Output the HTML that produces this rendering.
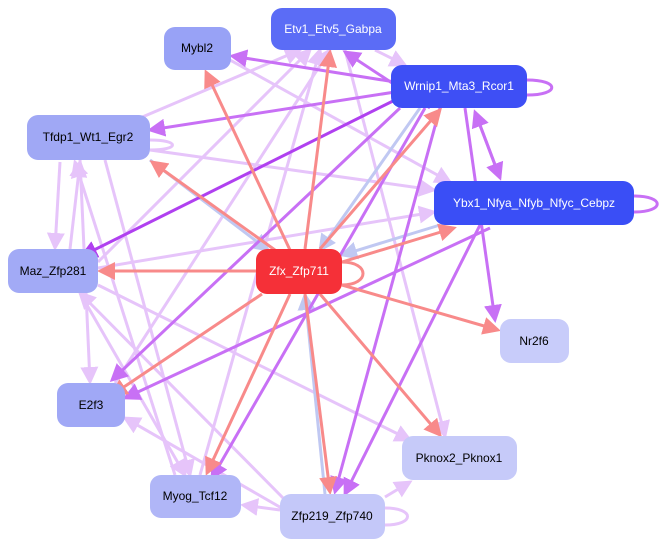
<!DOCTYPE html>
<html><head><meta charset="utf-8"><style>
html,body{margin:0;padding:0;background:#fff;}
svg{display:block;font-family:"Liberation Sans",sans-serif;}
</style></head><body>
<svg width="666" height="546" viewBox="0 0 666 546" xmlns="http://www.w3.org/2000/svg">
<defs>
<marker id="mr" markerWidth="6" markerHeight="6" refX="5" refY="3" orient="auto" markerUnits="strokeWidth"><path d="M0,0 L6,3 L0,6 z" fill="#f88a8a"/></marker>
<marker id="mp" markerWidth="6" markerHeight="6" refX="5" refY="3" orient="auto" markerUnits="strokeWidth"><path d="M0,0 L6,3 L0,6 z" fill="#c870f5"/></marker>
<marker id="md" markerWidth="6" markerHeight="6" refX="5" refY="3" orient="auto" markerUnits="strokeWidth"><path d="M0,0 L6,3 L0,6 z" fill="#b040f0"/></marker>
<marker id="ml" markerWidth="6" markerHeight="6" refX="5" refY="3" orient="auto" markerUnits="strokeWidth"><path d="M0,0 L6,3 L0,6 z" fill="#e6c4fa"/></marker>
<marker id="mb" markerWidth="6" markerHeight="6" refX="5" refY="3" orient="auto" markerUnits="strokeWidth"><path d="M0,0 L6,3 L0,6 z" fill="#c0c8f2"/></marker>
</defs>
<g fill="none" stroke-width="3">
<g stroke="#e6c4fa" marker-end="url(#ml)">
<line x1="140" y1="118" x2="300" y2="50"/>
<line x1="150" y1="150" x2="434" y2="190"/>
<line x1="98" y1="262" x2="310" y2="50"/>
<line x1="98" y1="268" x2="434" y2="212"/>
<line x1="70" y1="249" x2="80" y2="162"/>
<line x1="60" y1="162" x2="55" y2="248"/>
<line x1="98" y1="285" x2="410" y2="440"/>
<line x1="80" y1="293" x2="185" y2="475"/>
<line x1="105" y1="160" x2="190" y2="475"/>
<line x1="80" y1="160" x2="90" y2="382"/>
<line x1="200" y1="475" x2="320" y2="50"/>
<line x1="175" y1="475" x2="75" y2="162"/>
<line x1="230" y1="60" x2="450" y2="182"/>
<line x1="375" y1="50" x2="405" y2="65"/>
<line x1="115" y1="383" x2="330" y2="50"/>
<line x1="290" y1="505" x2="80" y2="293"/>
<line x1="285" y1="510" x2="125" y2="418"/>
<line x1="280" y1="510" x2="243" y2="505"/>
<line x1="385" y1="497" x2="410" y2="482"/>
<line x1="345" y1="50" x2="445" y2="436"/>
</g>
<path d="M150,140 C180,140 180,150 150,150" stroke="#e6c4fa"/>
<path d="M385,508 C415,508 415,525 385,525" stroke="#e6c4fa"/>
<g stroke="#c0c8f2" marker-end="url(#mb)">
<line x1="150" y1="160" x2="268" y2="250"/>
<line x1="420" y1="108" x2="320" y2="250"/>
<line x1="440" y1="225" x2="342" y2="255"/>
<line x1="325" y1="494" x2="305" y2="295"/>
</g>
<g stroke="#c870f5" marker-end="url(#mp)">
<line x1="395" y1="92" x2="150" y2="130"/>
<line x1="395" y1="82" x2="232" y2="56"/>
<line x1="430" y1="108" x2="345" y2="52"/>
<line x1="465" y1="108" x2="495" y2="320"/>
<line x1="440" y1="108" x2="335" y2="492"/>
<line x1="425" y1="108" x2="212" y2="478"/>
<line x1="400" y1="108" x2="112" y2="380"/>
<line x1="490" y1="228" x2="125" y2="398"/>
<line x1="480" y1="225" x2="345" y2="494"/>
<line x1="475" y1="112" x2="500" y2="178"/>
<line x1="500" y1="178" x2="475" y2="112"/>
</g>
<line x1="395" y1="100" x2="82" y2="256" stroke="#b040f0" marker-end="url(#md)"/>
<path d="M527,80 C560,80 560,95 527,95" stroke="#c870f5"/>
<path d="M634,196 C665,196 665,212 634,212" stroke="#c870f5"/>
<g stroke="#f88a8a" marker-end="url(#mr)">
<line x1="290" y1="250" x2="206" y2="72"/>
<line x1="305" y1="249" x2="330" y2="52"/>
<line x1="320" y1="249" x2="440" y2="110"/>
<line x1="275" y1="250" x2="152" y2="162"/>
<line x1="256" y1="271" x2="100" y2="271"/>
<line x1="342" y1="262" x2="454" y2="228"/>
<line x1="342" y1="285" x2="498" y2="330"/>
<line x1="320" y1="294" x2="440" y2="435"/>
<line x1="305" y1="294" x2="330" y2="492"/>
<line x1="290" y1="294" x2="207" y2="473"/>
<line x1="262" y1="294" x2="112" y2="395"/>
</g>
<path d="M342,262 C370,262 370,285 342,285" stroke="#f88a8a"/>
</g>
<g font-size="12" text-anchor="middle" dominant-baseline="central">
<rect x="271" y="8" width="125" height="42" rx="11" fill="#5b6cf6"/><text x="333" y="29" fill="#fff">Etv1_Etv5_Gabpa</text>
<rect x="164" y="27" width="67" height="43" rx="11" fill="#98a2f6"/><text x="197" y="48" fill="#000">Mybl2</text>
<rect x="391" y="65" width="136" height="43" rx="11" fill="#3e4ff5"/><text x="459" y="86" fill="#fff">Wrnip1_Mta3_Rcor1</text>
<rect x="27" y="115" width="123" height="45" rx="11" fill="#a0a8f5"/><text x="88" y="137" fill="#000">Tfdp1_Wt1_Egr2</text>
<rect x="434" y="181" width="200" height="44" rx="11" fill="#3a4ef6"/><text x="534" y="203" fill="#fff">Ybx1_Nfya_Nfyb_Nfyc_Cebpz</text>
<rect x="8" y="249" width="90" height="44" rx="11" fill="#a2aaf6"/><text x="53" y="271" fill="#000">Maz_Zfp281</text>
<rect x="256" y="249" width="86" height="45" rx="11" fill="#f53038"/><text x="299" y="271" fill="#fff">Zfx_Zfp711</text>
<rect x="500" y="319" width="69" height="44" rx="11" fill="#c8ccfa"/><text x="534" y="341" fill="#000">Nr2f6</text>
<rect x="57" y="383" width="68" height="44" rx="11" fill="#a0a8f6"/><text x="91" y="405" fill="#000">E2f3</text>
<rect x="402" y="436" width="115" height="44" rx="11" fill="#c6caf9"/><text x="459" y="458" fill="#000">Pknox2_Pknox1</text>
<rect x="150" y="475" width="91" height="43" rx="11" fill="#b0b6f7"/><text x="195" y="496" fill="#000">Myog_Tcf12</text>
<rect x="280" y="494" width="105" height="45" rx="11" fill="#c4c8f9"/><text x="332" y="516" fill="#000">Zfp219_Zfp740</text>
</g>
</svg>
</body></html>
